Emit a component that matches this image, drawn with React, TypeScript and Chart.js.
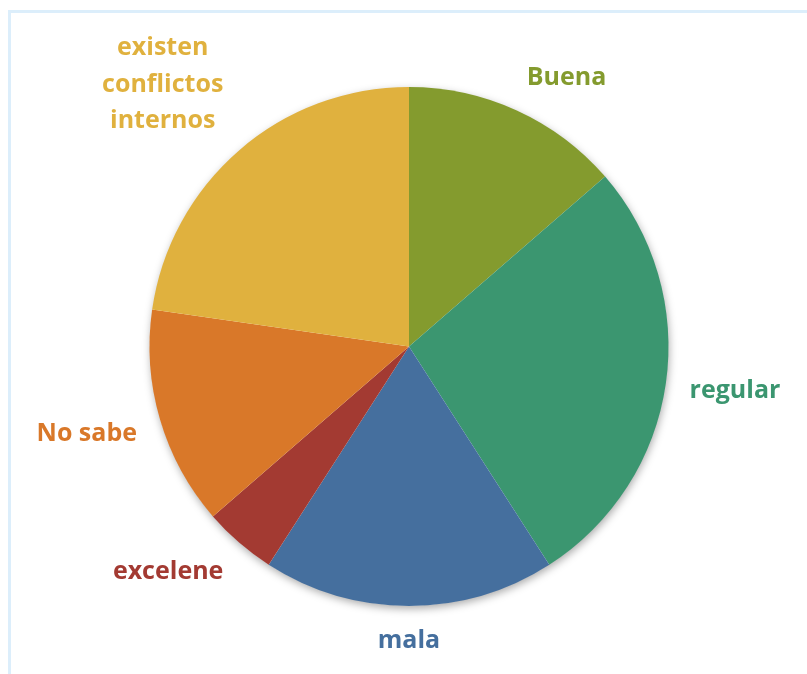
import React, { useEffect, useRef } from "react";
import { Chart, registerables } from "chart.js";

Chart.register(...registerables);

const categories = ["Buena", "regular", "mala", "excelene", "No sabe", "existen conflictos internos"];
const labelLines = [["Buena"], ["regular"], ["mala"], ["excelene"], ["No sabe"], ["existen", "conflictos", "internos"]];
const values = [6, 12, 8, 2, 6, 10];
const sliceColors = ["#849B2E", "#3B9670", "#456F9E", "#A33A32", "#D97829", "#E0B13E"];
const labelColors = ["#849B2E", "#3B9670", "#456F9E", "#A33A32", "#D97829", "#E0B13E"];

const FONT = "bold 25px 'Open Sans', 'Noto Sans', sans-serif";
const LINE_H = 36.5;
const GAP = 24;

const shadowPlugin = {
  id: "pieShadow",
  beforeDatasetsDraw(chart: any) {
    const meta = chart.getDatasetMeta(0);
    const arc = meta.data[0];
    if (!arc) return;
    const { x, y, outerRadius } = arc.getProps(["x", "y", "outerRadius"], true);
    const ctx = chart.ctx;
    ctx.save();
    ctx.shadowColor = "rgba(0,0,0,0.35)";
    ctx.shadowBlur = 9;
    ctx.shadowOffsetX = 1;
    ctx.shadowOffsetY = 3;
    ctx.fillStyle = "#ffffff";
    ctx.beginPath();
    ctx.arc(x, y, outerRadius - 0.5, 0, Math.PI * 2);
    ctx.fill();
    ctx.restore();
  },
};

const labelPlugin = {
  id: "outsideLabels",
  afterDatasetsDraw(chart: any) {
    const meta = chart.getDatasetMeta(0);
    const ctx = chart.ctx;
    ctx.save();
    ctx.font = FONT;
    ctx.textAlign = "center";
    ctx.textBaseline = "middle";
    meta.data.forEach((arc: any, i: number) => {
      const { x, y, startAngle, endAngle, outerRadius } = arc.getProps(
        ["x", "y", "startAngle", "endAngle", "outerRadius"],
        true
      );
      const mid = (startAngle + endAngle) / 2;
      const dx = Math.cos(mid);
      const dy = Math.sin(mid);
      const lines = labelLines[i];
      const w = Math.max(...lines.map((l) => ctx.measureText(l).width));
      const h = lines.length === 1 ? 22 : (lines.length - 1) * LINE_H + 22;
      const clamp = (v: number) => Math.max(-1, Math.min(1, v));
      const ax = x + dx * (outerRadius + GAP);
      const ay = y + dy * (outerRadius + GAP);
      const cx = ax + clamp(dx * 2.5) * (w / 2);
      const cy = ay + clamp(dy * 2.5) * (h / 2);
      ctx.fillStyle = labelColors[i];
      const top = cy - ((lines.length - 1) * LINE_H) / 2;
      lines.forEach((l, k) => ctx.fillText(l, cx, top + k * LINE_H));
    });
    ctx.restore();
  },
};

export default function App() {
  const ref = useRef<HTMLCanvasElement>(null);
  useEffect(() => {
    if (!ref.current) return;
    const chart = new Chart(ref.current, {
      type: "pie",
      data: {
        labels: categories,
        datasets: [
          {
            data: values,
            backgroundColor: sliceColors,
            borderWidth: 0,
          },
        ],
      },
      options: {
        responsive: false,
        animation: false,
        devicePixelRatio: 1,
        layout: { padding: { top: 87, bottom: 68, left: 100, right: 89 } },
        plugins: {
          legend: { display: false },
          tooltip: { enabled: false },
        },
      },
      plugins: [shadowPlugin, labelPlugin],
    });
    return () => chart.destroy();
  }, []);
  return (
    <div
      style={{
        position: "fixed",
        left: 0,
        top: 0,
        width: 807,
        height: 674,
        overflow: "hidden",
        background: "#ffffff",
      }}
    >
      <div
        style={{
          position: "absolute",
          left: 8,
          top: 10,
          width: 900,
          height: 800,
          borderTop: "3px solid #DCEEFB",
          borderLeft: "3px solid #DCEEFB",
        }}
      />
      <canvas
        ref={ref}
        width={807}
        height={674}
        style={{ position: "absolute", left: 0, top: 0, width: 807, height: 674 }}
      />
    </div>
  );
}
